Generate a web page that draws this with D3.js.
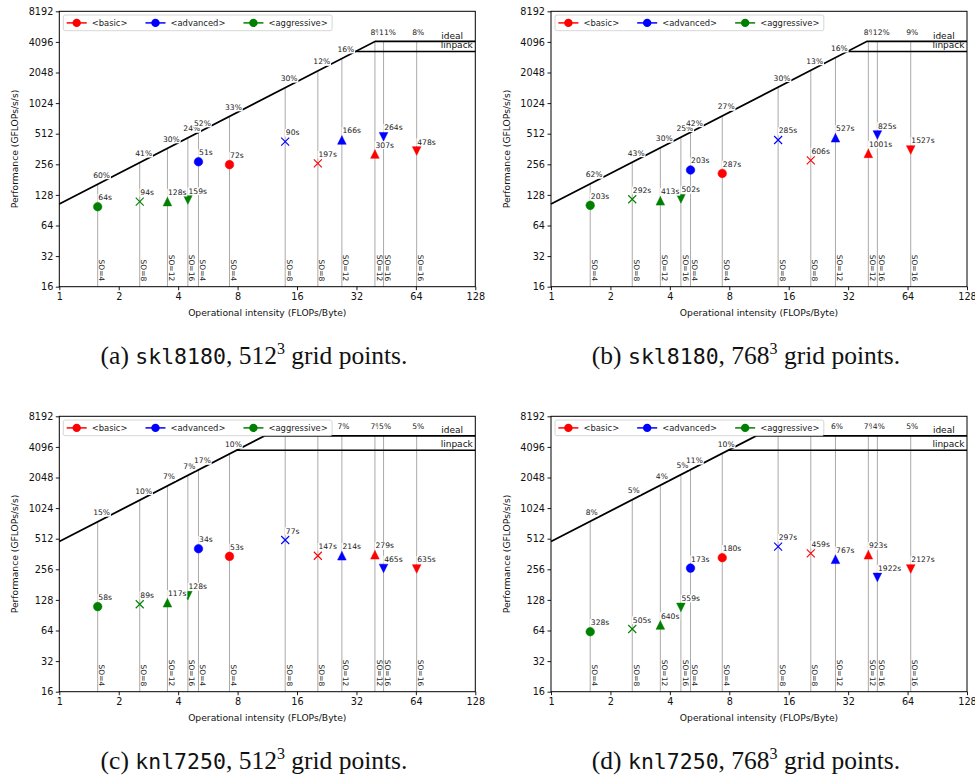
<!DOCTYPE html>
<html>
<head>
<meta charset="utf-8">
<script src="https://cdn.jsdelivr.net/npm/d3@7"></script>
<style>
  body { margin: 0; background: #fff; }
  svg { display: block; }
</style>
</head>
<body>
<svg id="fig" width="975" height="779"></svg>
<script>
/* ═══ Roofline plots — four panels ═══ */

// shared per-point configuration (same order in every panel)
const soOrders = [4, 8, 12, 16, 4, 4, 8, 8, 12, 12, 16, 16];
const variants = ['aggressive', 'aggressive', 'aggressive', 'aggressive',
                  'advanced', 'basic', 'advanced', 'basic',
                  'advanced', 'basic', 'advanced', 'basic'];

// operational intensity (FLOPs/Byte)
const oi512 = [1.565, 2.555, 3.53, 4.48, 5.07, 7.28, 13.94, 20.4, 27.0, 39.7, 43.9, 64.6];
const oi768 = [1.58, 2.58, 3.58, 4.55, 5.09, 7.37, 14.14, 20.7, 27.6, 40.5, 45.0, 66.4];

// performance (GFLOPs/s)
const perfA = [98, 110, 110, 114, 271, 254, 427, 261, 444, 323, 478, 346];
const perfB = [101, 116, 112, 117, 225, 208, 444, 280, 467, 328, 497, 354];
const perfC = [110, 116, 120, 141, 408, 343, 497, 348, 348, 356, 261, 258];
const perfD = [62.3, 66.2, 72.4, 108, 263, 333, 427, 367, 321, 356, 213, 258];

// runtime labels
const timeA = ['64s', '94s', '128s', '159s', '51s', '72s', '90s', '197s', '166s', '307s', '264s', '478s'];
const timeB = ['203s', '292s', '413s', '502s', '203s', '287s', '285s', '606s', '527s', '1001s', '825s', '1527s'];
const timeC = ['58s', '89s', '117s', '128s', '34s', '53s', '77s', '147s', '214s', '279s', '465s', '635s'];
const timeD = ['328s', '505s', '640s', '559s', '173s', '180s', '297s', '459s', '767s', '923s', '1922s', '2127s'];

// fraction-of-roofline labels (null = hidden behind the legend)
const pctA = ['60%', '41%', '30%', '24%', '52%', '33%', '30%', '12%', '16%', '8%', '11%', '8%'];
const pctB = ['62%', '43%', '30%', '25%', '42%', '27%', '30%', '13%', '16%', '8%', '12%', '9%'];
const pctC = ['15%', '10%', '7%', '7%', '17%', '10%', null, null, '7%', '7%', '5%', '5%'];
const pctD = ['8%', '5%', '4%', '5%', '11%', '10%', null, null, '6%', '7%', '4%', '5%'];

// machine rooflines
const skl = { bandwidth: 104, ideal: 4150, linpack: 3300 };
const knl = { bandwidth: 480, ideal: 5250, linpack: 3800 };

const xTicks = [1, 2, 4, 8, 16, 32, 64, 128];
const yTicks = [16, 32, 64, 128, 256, 512, 1024, 2048, 4096, 8192];

const legendItems = [
  { name: '<basic>', key: 'basic' },
  { name: '<advanced>', key: 'advanced' },
  { name: '<aggressive>', key: 'aggressive' },
];

const COLORS = { basic: '#ff0000', advanced: '#0000ff', aggressive: '#008000' };
const MARKER_OF_SO = { 4: 'circle', 8: 'x', 12: 'triUp', 16: 'triDown' };
const SANS = 'DejaVu Sans, sans-serif';

const panels = [
  { left: 59.3, top: 11.3, oi: oi512, perf: perfA, time: timeA, pct: pctA, roof: skl,
    cap: ['(a) ', 'skl8180', ', 512', '3', ' grid points.'], capX: 254, capY: 364 },
  { left: 551, top: 11.3, oi: oi768, perf: perfB, time: timeB, pct: pctB, roof: skl,
    cap: ['(b) ', 'skl8180', ', 768', '3', ' grid points.'], capX: 746, capY: 364 },
  { left: 59.3, top: 416.3, oi: oi512, perf: perfC, time: timeC, pct: pctC, roof: knl,
    cap: ['(c) ', 'knl7250', ', 512', '3', ' grid points.'], capX: 254, capY: 769 },
  { left: 551, top: 416.3, oi: oi768, perf: perfD, time: timeD, pct: pctD, roof: knl,
    cap: ['(d) ', 'knl7250', ', 768', '3', ' grid points.'], capX: 746, capY: 769 },
];

const PW = 416, PH = 275.4;
const svg = d3.select('#fig');

function markerPath(type, m) {
  const h = m / 2;
  if (type === 'circle') { const p = d3.path(); p.arc(0, 0, h, 0, 2 * Math.PI); return p.toString(); }
  if (type === 'triUp') return `M0,${-h}L${h},${h}L${-h},${h}Z`;
  if (type === 'triDown') return `M0,${h}L${h},${-h}L${-h},${-h}Z`;
  return `M${-h},${-h}L${h},${h}M${-h},${h}L${h},${-h}`;
}

// text with a white box behind it
function boxedText(g, x, y, str, size) {
  const t = g.append('text').attr('x', x).attr('y', y)
    .attr('font-family', SANS).attr('font-size', size).attr('fill', '#222').text(str);
  const b = t.node().getBBox();
  g.insert('rect', () => t.node())
    .attr('x', b.x - 0.8).attr('y', b.y + 0.8).attr('width', b.width + 1.6).attr('height', b.height - 1.4)
    .attr('fill', '#fff');
  return t;
}

function drawPanel(p) {
  const x = d3.scaleLog().base(2).domain([1, 128]).range([p.left, p.left + PW]);
  const y = d3.scaleLog().base(2).domain([16, 8192]).range([p.top + PH, p.top]);
  const bottom = p.top + PH, right = p.left + PW;
  const roofAt = v => Math.min(p.roof.ideal, p.roof.bandwidth * v);

  const g = svg.append('g');

  // vertical guide lines
  g.append('g').selectAll('line').data(p.oi).join('line')
    .attr('x1', d => x(d)).attr('x2', d => x(d))
    .attr('y1', bottom).attr('y2', d => y(roofAt(d)))
    .attr('stroke', '#aaa').attr('stroke-width', 1);

  // rooflines
  const ridge = p.roof.ideal / p.roof.bandwidth;
  g.append('path')
    .attr('d', d3.line()([[x(1), y(p.roof.bandwidth)], [x(ridge), y(p.roof.ideal)], [right, y(p.roof.ideal)]]))
    .attr('fill', 'none').attr('stroke', '#000').attr('stroke-width', 1.8);
  g.append('line')
    .attr('x1', x(p.roof.linpack / p.roof.bandwidth)).attr('x2', right)
    .attr('y1', y(p.roof.linpack)).attr('y2', y(p.roof.linpack))
    .attr('stroke', '#000').attr('stroke-width', 1.6);

  g.append('text').attr('x', x(86)).attr('y', y(p.roof.ideal) - 2.5)
    .attr('font-family', SANS).attr('font-size', 9).attr('fill', '#111').text('ideal');
  g.append('text').attr('x', x(85.5)).attr('y', y(p.roof.linpack) - 3.5)
    .attr('font-family', SANS).attr('font-size', 9).attr('fill', '#111').text('linpack');

  // markers
  p.oi.forEach((v, i) => {
    const type = MARKER_OF_SO[soOrders[i]];
    const c = COLORS[variants[i]];
    g.append('path')
      .attr('transform', `translate(${x(v)},${y(p.perf[i])})`)
      .attr('d', markerPath(type, type === 'x' ? 8 : 8.6))
      .attr('fill', type === 'x' ? 'none' : c)
      .attr('stroke', c).attr('stroke-width', type === 'x' ? 1.1 : 0.5);
  });

  // SO labels
  g.append('g').selectAll('text').data(p.oi).join('text')
    .attr('transform', d => `translate(${x(d) + 1.6},${bottom - 5.5}) rotate(90)`)
    .attr('text-anchor', 'end')
    .attr('font-family', SANS).attr('font-size', 7.5).attr('fill', '#222')
    .text((d, i) => 'SO=' + soOrders[i]);

  // runtime labels and roofline fractions
  p.oi.forEach((v, i) => boxedText(g, x(v) + 0.6, y(p.perf[i]) - 6.5, p.time[i], 7.6));
  p.oi.forEach((v, i) => {
    if (p.pct[i] == null) return;
    boxedText(g, x(v) - 4.5, y(roofAt(v)) - 6.5, p.pct[i], 7.6);
  });

  // legend
  const lg = g.append('g');
  const lbox = lg.append('rect')
    .attr('x', p.left + 4).attr('y', p.top + 3.7).attr('height', 15.7).attr('rx', 2)
    .attr('fill', '#fff').attr('fill-opacity', 0.85).attr('stroke', '#ccc').attr('stroke-width', 0.8);
  const ly = p.top + 11.6;
  let lx = p.left + 7.4;
  legendItems.forEach(it => {
    const c = COLORS[it.key];
    lg.append('line').attr('x1', lx).attr('x2', lx + 20).attr('y1', ly).attr('y2', ly)
      .attr('stroke', c).attr('stroke-width', 1.5);
    lg.append('circle').attr('cx', lx + 10).attr('cy', ly).attr('r', 4.2).attr('fill', c);
    const t = lg.append('text').attr('x', lx + 25).attr('y', ly).attr('dy', '0.35em')
      .attr('font-family', SANS).attr('font-size', 8.4).attr('fill', '#222').text(it.name);
    lx += 25 + t.node().getComputedTextLength() + 18;
  });
  lbox.attr('width', lx - 18 + 4.3 - (p.left + 4));

  // frame and axes
  g.append('rect').attr('x', p.left).attr('y', p.top).attr('width', PW).attr('height', PH)
    .attr('fill', 'none').attr('stroke', '#000').attr('stroke-width', 1);

  const xa = g.append('g').attr('transform', `translate(0,${bottom})`)
    .call(d3.axisBottom(x).tickValues(xTicks).tickFormat(d3.format('d')).tickSize(3.5).tickPadding(2.5));
  const ya = g.append('g').attr('transform', `translate(${p.left},0)`)
    .call(d3.axisLeft(y).tickValues(yTicks).tickFormat(d3.format('d')).tickSize(3.5).tickPadding(2.5));
  [xa, ya].forEach(a => {
    a.select('.domain').remove();
    a.selectAll('text').attr('font-family', SANS).attr('font-size', 9.7).attr('fill', '#111');
    a.selectAll('line').attr('stroke', '#000').attr('stroke-width', 0.9);
  });

  g.append('text').attr('x', (p.left + right) / 2).attr('y', bottom + 29.5)
    .attr('text-anchor', 'middle').attr('font-family', SANS).attr('font-size', 9.2).attr('fill', '#111')
    .text('Operational intensity (FLOPs/Byte)');
  g.append('text')
    .attr('transform', `translate(${p.left - 41.3},${(p.top + bottom) / 2}) rotate(-90)`)
    .attr('text-anchor', 'middle').attr('font-family', SANS).attr('font-size', 9.2).attr('fill', '#111')
    .text('Performance (GFLOPs/s/s)');

  // caption
  const cap = svg.append('text').attr('x', p.capX).attr('y', p.capY)
    .attr('text-anchor', 'middle').attr('font-family', 'Liberation Serif, serif')
    .attr('font-size', 25.5).attr('fill', '#111');
  cap.append('tspan').text(p.cap[0]);
  cap.append('tspan').attr('font-family', 'DejaVu Sans Mono, monospace').attr('font-size', 21.5)
    .text(p.cap[1]);
  cap.append('tspan').text(p.cap[2]);
  cap.append('tspan').attr('dy', -10).attr('font-size', 16).text(p.cap[3]);
  cap.append('tspan').attr('dy', 10).text(p.cap[4]);
}

panels.forEach(drawPanel);
</script>
</body>
</html>
